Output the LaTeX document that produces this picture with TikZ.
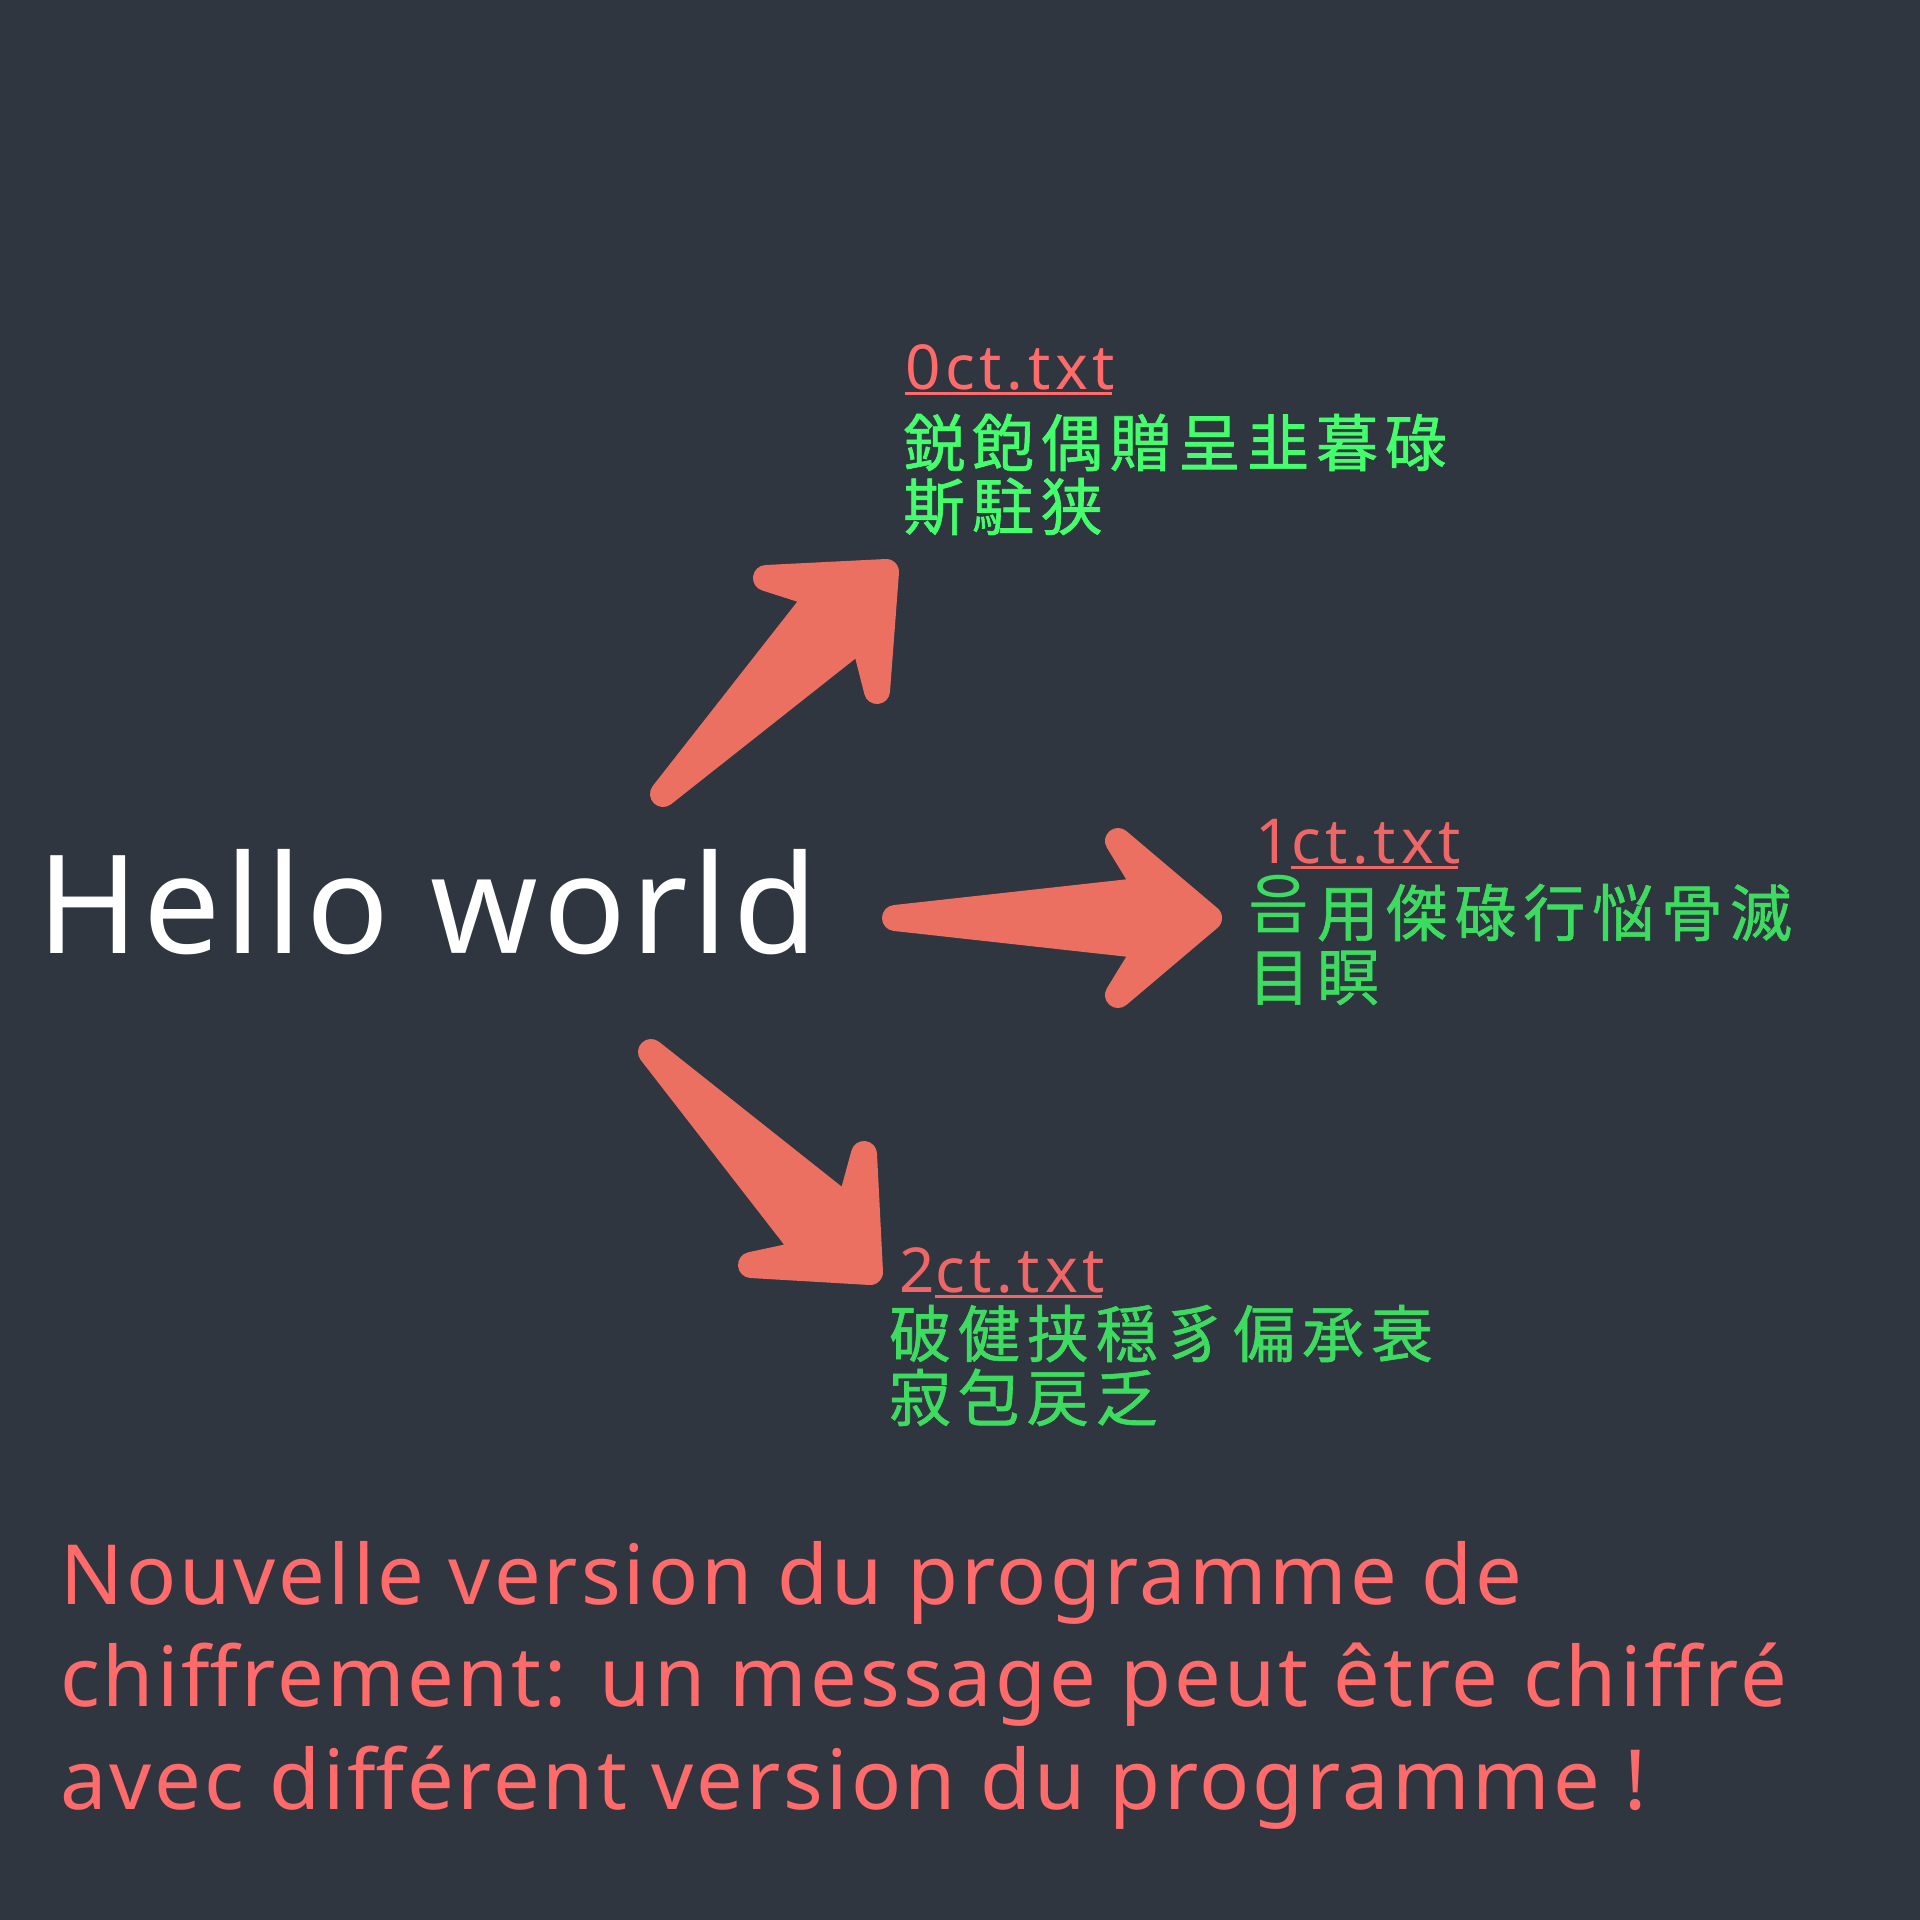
\documentclass[tikz,border=0pt]{standalone}
\usepackage{fontspec}
\setmainfont{Noto Sans}
\newfontfamily\widesans{Noto Sans}[LetterSpace=3.6]
\newfontfamily\hellosans{Noto Sans}[LetterSpace=3.7]
\newfontfamily\filesans{Noto Sans}[LetterSpace=7.6]
\newfontfamily\cjk{Noto Sans CJK JP}[LetterSpace=11,FakeBold=1]
\newfontfamily\hangul{Noto Sans CJK KR}[LetterSpace=11]
\definecolor{bgdark}{RGB}{47,54,64}
\definecolor{arrowred}{RGB}{236,112,98}
\definecolor{notered}{RGB}{255,107,107}
\definecolor{filered}{RGB}{238,102,102}
\definecolor{brightgreen}{RGB}{68,255,108}
\definecolor{dimgreen}{RGB}{61,220,96}

\begin{document}
\begin{tikzpicture}[x=1pt,y=-1pt,
  bigarrow/.style={fill=arrowred,draw=arrowred,line width=26pt,line join=round},
  fname/.style={anchor=base west,inner sep=0pt,font=\filesans\fontsize{62}{64}\selectfont},
  cipher/.style={anchor=base west,inner sep=0pt,align=left,font=\cjk\fontsize{62}{64}\selectfont},
  uline/.style={line width=3pt}]

\fill[bgdark] (0,0) rectangle (1920,1920);
\useasboundingbox (0,0) rectangle (1920,1920);

\node[anchor=base west,inner sep=0pt,text=white,font=\hellosans\fontsize{137}{137}\selectfont] (hello) at (37,953) {Hello world};

% arrows
\filldraw[bigarrow] (663,794) -- (819,595) -- (766,578) -- (886,572) -- (877,691) -- (863,636) -- cycle;
\filldraw[bigarrow] (895,918) -- (1148,890) -- (1118,841) -- (1209,918) -- (1118,995) -- (1148,946) -- cycle;
\filldraw[bigarrow] (651,1052) -- (849,1209) -- (864,1154) -- (870,1272) -- (751,1265) -- (807,1253) -- cycle;

% version 0 (base = last line)
\node[fname,text=notered] (lbl0) at (905,389) {0ct.txt};
\draw[uline,notered] ([yshift=-4pt]lbl0.base west) -- ([yshift=-4pt,xshift=-3pt]lbl0.base east);
\node[cipher,text=brightgreen] (ct0) at (903,530) {鋭飽偶贈呈韭暮碌\\斯駐狭};

% version 1
\node[fname,text=filered] (d1) at (1255,863) {1};
\node[fname,text=filered] (lbl1) at (d1.base east) {ct.txt};
\draw[uline,filered] ([yshift=-4pt]lbl1.base west) -- ([yshift=-4pt,xshift=-3pt]lbl1.base east);
\node[cipher,text=dimgreen] (ct1) at (1248,1000) {\raisebox{8pt}{\hangul\fontsize{66}{64}\selectfont 음}\kern8pt用傑碌行悩骨滅\\目瞑};

% version 2
\node[fname,text=filered] (d2) at (899,1292) {2};
\node[fname,text=filered] (lbl2) at (d2.base east) {ct.txt};
\draw[uline,filered] ([yshift=-4pt]lbl2.base west) -- ([yshift=-4pt,xshift=-3pt]lbl2.base east);
\node[cipher,text=dimgreen] (ct2) at (889,1421) {破健挟穏豸偏承衰\\寂包戻乏};

\node[anchor=base west,inner sep=0pt,align=left,text=notered,font=\widesans\fontsize{83}{102.5}\selectfont] (note) at (60,1809) {Nouvelle version du programme de\\chiffrement: un message peut être chiffré\\avec différent version du programme !};

\end{tikzpicture}
\end{document}
